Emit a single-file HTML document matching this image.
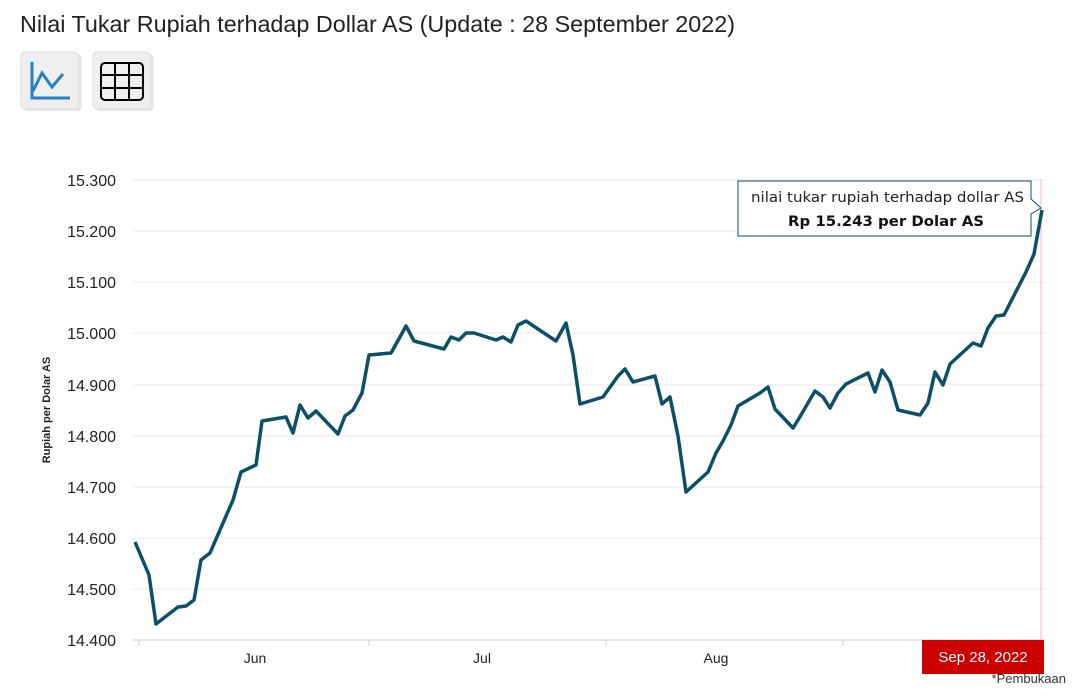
<!DOCTYPE html>
<html><head><meta charset="utf-8"><style>
html,body{margin:0;padding:0;background:#fff;width:1088px;height:700px;overflow:hidden}
svg{display:block;font-family:"Liberation Sans",sans-serif}
</style></head><body>
<svg width="1088" height="700" viewBox="0 0 1088 700">
<text x="20" y="32" font-size="23" fill="#222" textLength="715" lengthAdjust="spacingAndGlyphs">Nilai Tukar Rupiah terhadap Dollar AS (Update : 28 September 2022)</text>
<rect x="24" y="54" width="58" height="57" rx="4" fill="#e8e8e8"/>
<rect x="21" y="52" width="57" height="57" rx="4" fill="#efefef" stroke="#ddd"/>
<polyline points="32,62 32,98 70,98" fill="none" stroke="#2a7fbd" stroke-width="3"/>
<polyline points="33,91 42,73 52,87 63,74" fill="none" stroke="#2a7fbd" stroke-width="3"/>
<rect x="96" y="54" width="58" height="57" rx="4" fill="#e8e8e8"/>
<rect x="93" y="52" width="57" height="57" rx="4" fill="#efefef" stroke="#ddd"/>
<rect x="101" y="63" width="42" height="37" rx="4" fill="none" stroke="#000" stroke-width="2"/>
<path d="M115,63V100M129,63V100M101,75H143M101,88H143" stroke="#000" stroke-width="2"/>
<g stroke="#e8e8e8" stroke-width="1">
<line x1="133" y1="180" x2="1045" y2="180"/><line x1="133" y1="231" x2="1045" y2="231"/>
<line x1="133" y1="282" x2="1045" y2="282"/><line x1="133" y1="333" x2="1045" y2="333"/>
<line x1="133" y1="385" x2="1045" y2="385"/><line x1="133" y1="436" x2="1045" y2="436"/>
<line x1="133" y1="487" x2="1045" y2="487"/><line x1="133" y1="538" x2="1045" y2="538"/>
<line x1="133" y1="589" x2="1045" y2="589"/>
</g>
<line x1="133" y1="640" x2="1045" y2="640" stroke="#ccc"/>
<g stroke="#ccc"><line x1="139" y1="640" x2="139" y2="646"/><line x1="369" y1="640" x2="369" y2="646"/><line x1="606" y1="640" x2="606" y2="646"/><line x1="843" y1="640" x2="843" y2="646"/></g>
<line x1="1041" y1="180" x2="1041" y2="640" stroke="#f4b8b8"/>
<g font-size="16" fill="#222" text-anchor="end">
<text x="116" y="186">15.300</text><text x="116" y="237">15.200</text><text x="116" y="288">15.100</text>
<text x="116" y="339">15.000</text><text x="116" y="391">14.900</text><text x="116" y="442">14.800</text>
<text x="116" y="493">14.700</text><text x="116" y="544">14.600</text><text x="116" y="595">14.500</text>
<text x="116" y="646">14.400</text>
</g>
<text transform="translate(50,410) rotate(-90)" font-size="11" font-weight="bold" fill="#222" text-anchor="middle">Rupiah per Dolar AS</text>
<g font-size="14" fill="#222" text-anchor="middle"><text x="255" y="663">Jun</text><text x="482" y="663">Jul</text><text x="716" y="663">Aug</text></g>
<polyline fill="none" stroke="#0b5068" stroke-width="3.5" stroke-linejoin="round" points="135,542 149,575 156,624 178,607 186,606 194,600 201,560 210,553 233,500 241,472 256,465 262,421 286,417 293,433 300,405 308,418 316,411 338,434 345,416 353,410 362,393 369,355 391,353 400,337 406,326 414,341 444,349 451,337 459,340 466,333 474,333 496,340 503,337 511,342 518,325 526,321 556,341 566,323 573,355 580,404 603,397 618,376 625,369 633,382 655,376 662,404 670,397 678,436 686,492 708,472 716,453 723,441 731,425 738,406 760,393 768,387 775,409 793,428 798,420 815,391 823,397 830,408 838,393 846,384 868,373 875,392 882,370 890,382 898,410 920,415 928,403 935,372 943,385 950,364 973,343 981,346 988,328 996,316 1004,315 1026,272 1034,254 1042,210"/>
<path d="M738,181 H1031 V199 L1041,208 L1031,214 V236 H738 Z" fill="#fff" stroke="#0b5068" stroke-width="1"/>
<text x="1024" y="202" font-size="14" fill="#222" text-anchor="end" font-family="DejaVu Sans, sans-serif" textLength="273" lengthAdjust="spacingAndGlyphs">nilai tukar rupiah terhadap dollar AS</text>
<text x="886" y="226" font-size="14" font-weight="bold" fill="#111" text-anchor="middle" font-family="DejaVu Sans, sans-serif" textLength="196" lengthAdjust="spacingAndGlyphs">Rp 15.243 per Dolar AS</text>
<rect x="922" y="640" width="122" height="34" fill="#cc0000"/>
<text x="983" y="662" font-size="15" fill="#fff" text-anchor="middle">Sep 28, 2022</text>
<text x="1066" y="683" font-size="13" fill="#333" text-anchor="end">*Pembukaan</text>
</svg>
</body></html>
